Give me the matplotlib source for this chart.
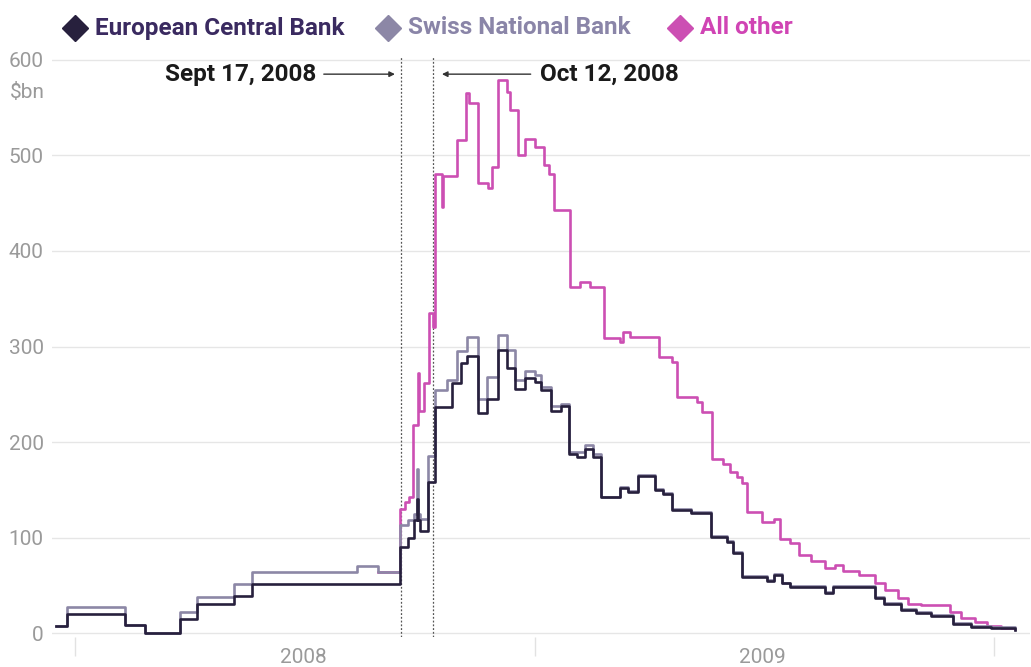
import pandas as pd
import matplotlib
matplotlib.use("Agg")
import matplotlib.pyplot as plt

# ECB swap line drawn on its own (dark line), $bn
ecb_dates = ["2007-12-17", "2007-12-26", "2008-02-10", "2008-02-26", "2008-03-25", "2008-04-07",
             "2008-05-07", "2008-05-21", "2008-09-16", "2008-09-22", "2008-09-27", "2008-09-29",
             "2008-09-30", "2008-10-02", "2008-10-08", "2008-10-14", "2008-10-27", "2008-11-03",
             "2008-11-08", "2008-11-17", "2008-11-24", "2008-12-03", "2008-12-10", "2008-12-16",
             "2008-12-24", "2009-01-01", "2009-01-06", "2009-01-14", "2009-01-22", "2009-01-28",
             "2009-02-04", "2009-02-10", "2009-02-16", "2009-02-23", "2009-03-10", "2009-03-16",
             "2009-03-24", "2009-04-07", "2009-04-13", "2009-04-20", "2009-05-05", "2009-05-21",
             "2009-06-03", "2009-06-08", "2009-06-15", "2009-07-05", "2009-07-10", "2009-07-17",
             "2009-07-23", "2009-08-20", "2009-08-26", "2009-09-29", "2009-10-06", "2009-10-19",
             "2009-10-31", "2009-11-12", "2009-11-30", "2009-12-14", "2009-12-30", "2010-01-18"]
ecb_values = [7, 20, 9, 0, 15, 31,
              39, 51, 90, 100, 118, 140,
              118, 107, 158, 237, 262, 283,
              290, 230, 245, 296, 277, 256,
              267, 263, 254, 233, 238, 188,
              184, 193, 184, 142, 152, 148,
              165, 150, 146, 129, 126, 101,
              95, 84, 59, 55, 61, 52,
              48, 42, 48, 37, 31, 24,
              21, 18, 10, 6, 5, 3]

# ECB + Swiss National Bank (grey line)
snb_dates = ["2007-12-17", "2007-12-26", "2008-02-10", "2008-02-26", "2008-03-25", "2008-04-07",
             "2008-05-07", "2008-05-21", "2008-08-13", "2008-08-29", "2008-09-16", "2008-09-22",
             "2008-09-27", "2008-09-29", "2008-09-30", "2008-10-02", "2008-10-08", "2008-10-14",
             "2008-10-23", "2008-10-31", "2008-11-08", "2008-11-17", "2008-11-24", "2008-12-03",
             "2008-12-10", "2008-12-16", "2008-12-24", "2009-01-01", "2009-01-06", "2009-01-14",
             "2009-01-22", "2009-01-28", "2009-02-04", "2009-02-10", "2009-02-16", "2009-02-23",
             "2009-03-10", "2009-03-16", "2009-03-24", "2009-04-07", "2009-04-13", "2009-04-20",
             "2009-05-05", "2009-05-21", "2009-06-03", "2009-06-08", "2009-06-15", "2009-07-05",
             "2009-07-10", "2009-07-17", "2009-07-23", "2009-08-20", "2009-08-26", "2009-09-29",
             "2009-10-06", "2009-10-19", "2009-10-31", "2009-11-12", "2009-11-30", "2009-12-14",
             "2009-12-30", "2010-01-18"]
snb_values = [7, 27, 9, 0, 22, 38,
              51, 64, 70, 64, 113, 118,
              125, 172, 125, 120, 185, 255,
              265, 295, 310, 245, 268, 312,
              296, 265, 274, 270, 258, 238,
              240, 190, 190, 197, 187, 143,
              153, 149, 166, 151, 147, 130,
              127, 102, 96, 85, 60, 56,
              62, 53, 49, 43, 49, 38,
              32, 25, 22, 19, 11, 7,
              6, 4]

# Total including all other central banks (pink line)
total_dates = ["2008-08-29", "2008-09-16", "2008-09-20", "2008-09-23", "2008-09-26", "2008-09-30",
               "2008-10-01", "2008-10-05", "2008-10-09", "2008-10-12", "2008-10-14", "2008-10-19",
               "2008-10-20", "2008-10-31", "2008-11-07", "2008-11-10", "2008-11-17", "2008-11-25",
               "2008-11-28", "2008-12-03", "2008-12-10", "2008-12-12", "2008-12-19", "2008-12-24",
               "2009-01-01", "2009-01-08", "2009-01-12", "2009-01-16", "2009-01-29", "2009-02-06",
               "2009-02-14", "2009-02-25", "2009-03-10", "2009-03-12", "2009-03-18", "2009-04-10",
               "2009-04-20", "2009-04-24", "2009-05-10", "2009-05-14", "2009-05-22", "2009-05-31",
               "2009-06-05", "2009-06-11", "2009-06-15", "2009-06-19", "2009-07-01", "2009-07-10",
               "2009-07-15", "2009-07-23", "2009-07-30", "2009-08-09", "2009-08-20", "2009-08-28",
               "2009-09-03", "2009-09-16", "2009-09-29", "2009-10-07", "2009-10-17", "2009-10-25",
               "2009-11-04", "2009-11-27", "2009-12-06", "2009-12-17", "2009-12-27", "2010-01-07",
               "2010-01-18"]
total_values = [64, 130, 137, 143, 218, 272,
                232, 262, 335, 320, 480, 446,
                478, 516, 565, 555, 471, 466,
                488, 579, 566, 548, 500, 517,
                509, 490, 480, 443, 362, 367,
                362, 309, 305, 315, 310, 289,
                284, 247, 242, 231, 182, 177,
                169, 163, 157, 127, 116, 120,
                99, 94, 82, 76, 68, 71,
                65, 61, 53, 45, 37, 31,
                29, 22, 16, 12, 8, 5,
                4]

labels = ["European Central Bank", "Swiss National Bank", "All other"]
events = ["2008-09-17", "2008-10-12"]
event_labels = ["Sept 17, 2008", "Oct 12, 2008"]
year_starts = ["2008-01-01", "2009-01-01", "2010-01-01"]
year_mids = ["2008-07-01", "2009-07-01"]
year_labels = ["2008", "2009"]

ecb_col = "#27203d"
snb_col = "#8c87a6"
oth_col = "#cc4fb3"
ecb_txt = "#3a2a60"
snb_txt = "#8a85a8"
oth_txt = "#d044b4"
grey = "#9a9a9a"

plt.rcParams["font.family"] = ["Roboto", "DejaVu Sans"]

fig = plt.figure(figsize=(10.31, 6.67), dpi=100)
ax = fig.add_axes([52 / 1031, (667 - 637) / 667, 978 / 1031, 581 / 667])

ax.step(pd.to_datetime(total_dates), total_values, where="post", color=oth_col, lw=1.9, zorder=2)
ax.step(pd.to_datetime(snb_dates), snb_values, where="post", color=snb_col, lw=1.9, zorder=3)
ax.step(pd.to_datetime(ecb_dates), ecb_values, where="post", color=ecb_col, lw=1.9, zorder=4)

ax.set_xlim(pd.Timestamp("2007-12-14"), pd.Timestamp("2010-01-30"))
ax.set_ylim(-4, 604)

for s in ax.spines.values():
    s.set_visible(False)
ax.set_yticks([0, 100, 200, 300, 400, 500, 600])
ax.grid(axis="y", color="#e6e6e6", lw=1)
ax.set_axisbelow(True)
ax.tick_params(axis="y", length=0, labelsize=15, labelcolor=grey, pad=6)

ax.set_xticks(pd.to_datetime(year_starts))
ax.set_xticklabels([""] * len(year_starts))
ax.set_xticks(pd.to_datetime(year_mids), minor=True)
ax.set_xticklabels(year_labels, minor=True)
ax.tick_params(axis="x", which="major", length=14, color="#e2e2e2", width=1)
ax.tick_params(axis="x", which="minor", length=0, labelsize=15, labelcolor=grey, pad=8)

# event lines and annotations
for d in events:
    ax.axvline(pd.Timestamp(d), color="#555555", lw=0.9, ls=(0, (1.5, 1.5)), zorder=1)

ax.annotate("", xy=(pd.Timestamp(events[0]) - pd.Timedelta(days=3), 585),
            xytext=(pd.Timestamp("2008-07-15"), 585),
            arrowprops=dict(arrowstyle="-|>", color="#333333", lw=1, mutation_scale=8))
ax.text(pd.Timestamp("2008-07-11"), 585, event_labels[0], ha="right", va="center",
        fontsize=17.5, fontweight="bold", color="#1a1a1a")
ax.annotate("", xy=(pd.Timestamp(events[1]) + pd.Timedelta(days=5), 585),
            xytext=(pd.Timestamp("2008-12-31"), 585),
            arrowprops=dict(arrowstyle="-|>", color="#333333", lw=1, mutation_scale=8))
ax.text(pd.Timestamp("2009-01-05"), 585, event_labels[1], ha="left", va="center",
        fontsize=17.5, fontweight="bold", color="#1a1a1a")

# $bn unit
fig.text(45 / 1031, 1 - 93 / 667, "$bn", ha="right", va="center", fontsize=15, color=grey)

# legend
leg_x = [75, 388, 680]
leg_cols = [ecb_col, snb_col, oth_col]
leg_txt_cols = [ecb_txt, snb_txt, oth_txt]
for x, lab, c, tc in zip(leg_x, labels, leg_cols, leg_txt_cols):
    fig.add_artist(plt.Line2D([x / 1031], [1 - 28 / 667], marker="D", markersize=13,
                              color=c, transform=fig.transFigure))
    fig.text((x + 20) / 1031, 1 - 28 / 667, lab, ha="left", va="center",
             fontsize=17.5, fontweight="bold", color=tc)

fig.savefig("out.png", dpi=100)
